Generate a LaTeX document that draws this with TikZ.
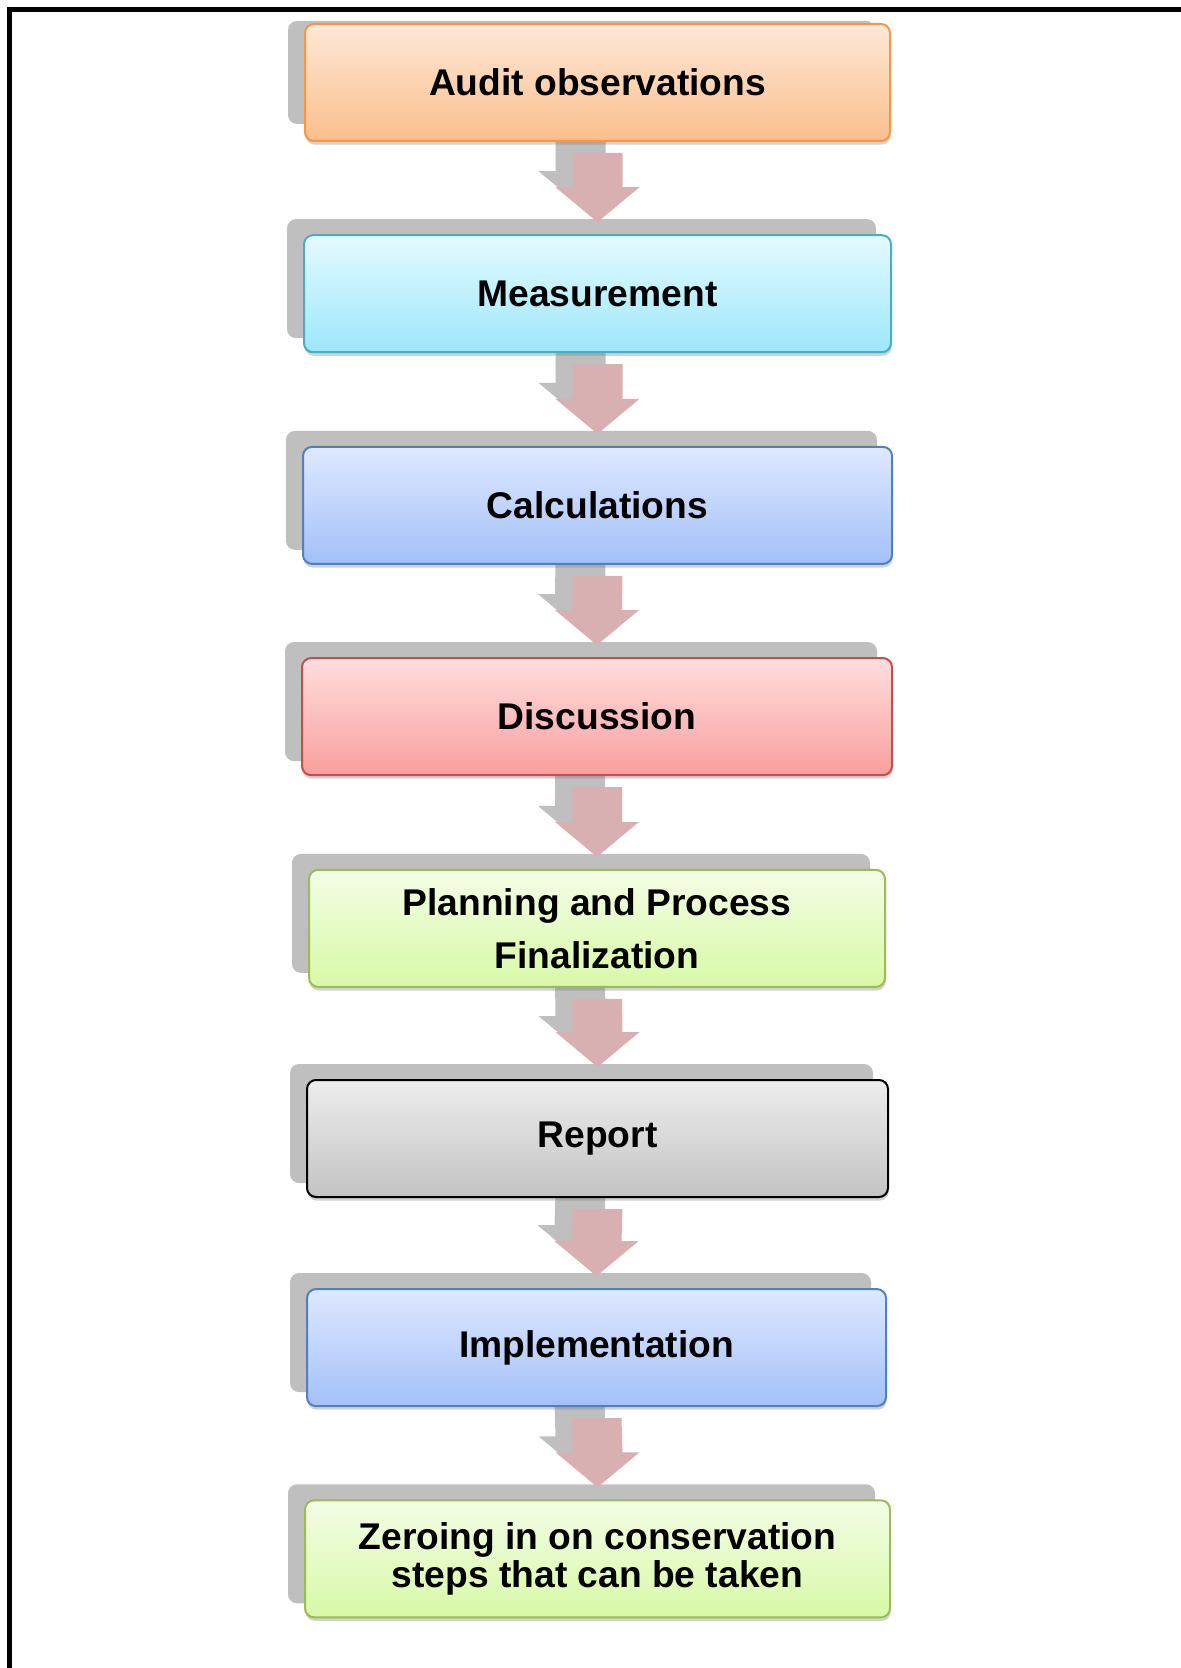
\documentclass[tikz,border=0pt]{standalone}
\usepackage{fontspec}
\setmainfont{Liberation Sans}
\usetikzlibrary{calc,shadows,backgrounds}
\definecolor{oTop}{HTML}{FDE8D8}\definecolor{oBot}{HTML}{FBBF8C}\definecolor{oBor}{HTML}{F79646}
\definecolor{cTop}{HTML}{E4FAFE}\definecolor{cBot}{HTML}{9DE7FB}\definecolor{cBor}{HTML}{4BACC6}
\definecolor{bTop}{HTML}{DFE8FF}\definecolor{bBot}{HTML}{A3C0F7}\definecolor{bBor}{HTML}{4F81BD}
\definecolor{rTop}{HTML}{FFDEDE}\definecolor{rBot}{HTML}{F99E9E}\definecolor{rBor}{HTML}{C0504D}
\definecolor{gTop}{HTML}{F3FDE6}\definecolor{gBot}{HTML}{D8F9A6}\definecolor{gBor}{HTML}{9BBB59}
\definecolor{kTop}{HTML}{EDEDED}\definecolor{kBot}{HTML}{C3C3C3}\definecolor{kBor}{HTML}{000000}
\definecolor{shadowgray}{HTML}{BFBFBF}
\definecolor{arrowpink}{HTML}{D9B0B2}
\tikzset{
  stepbox/.style={draw, line width=1pt, rounded corners=4.5pt, minimum height=58.5pt,
    inner sep=0pt, align=center, text=black,
    font=\fontsize{18.6}{26.5}\selectfont\bfseries,
    drop shadow={shadow xshift=0.3pt, shadow yshift=-1.8pt, opacity=0.35}},
  boxcol/.style={top color=#1Top, bottom color=#1Bot, draw=#1Bor},
  backshadow/.style={fill=shadowgray, rounded corners=4.5pt},
  grayarrow/.style={fill=shadowgray},
  pinkarrow/.style={fill=arrowpink},
  frameline/.style={line width=2.5pt, draw=black}
}
\begin{document}
\begin{tikzpicture}[x=0.5pt,y=-0.5pt]
\useasboundingbox (0,0) rectangle (1180,1668);

\node[stepbox, boxcol=o, minimum width=292.5pt] (b1) at (597.5,82.5) {Audit observations};
\node[stepbox, boxcol=c, minimum width=293.5pt] (b2) at (597.5,293.7) {Measurement};
\node[stepbox, boxcol=b, minimum width=294.5pt] (b3) at (597.5,505.4) {Calculations};
\node[stepbox, boxcol=r, minimum width=295pt] (b4) at (597,716.6) {Discussion};
\node[stepbox, boxcol=g, minimum width=288pt] (b5) at (597,928.4) {Planning and Process\\Finalization};
\node[stepbox, boxcol=k, minimum width=290.5pt] (b6) at (597.5,1138.5) {Report};
\node[stepbox, boxcol=b, minimum width=289.5pt] (b7) at (596.5,1347.6) {Implementation};
\node[stepbox, boxcol=g, minimum width=292.5pt, font=\fontsize{18.6}{18.6}\selectfont\bfseries] (b8) at (597.5,1558.8) {Zeroing in on conservation\\steps that can be taken};

\draw[frameline] (9.2,1680) -- (9.2,9.8) -- (1190,9.8);

\begin{scope}[on background layer]
  \fill[white] (0,0) rectangle (1180,1668);
  \path[backshadow] ($(b1.north west)+(-16,-2)$) rectangle ($(b1.south east)+(-16,-18)$);
  \foreach \b in {b2,b3,b4,b5,b6,b7,b8}
    \path[backshadow] ($(\b.north west)+(-16,-15)$) rectangle ($(\b.south east)+(-16,-15)$);
  \foreach \a/\c in {b1/b2,b2/b3,b3/b4,b4/b5,b5/b6,b6/b7,b7/b8} {
    \path[grayarrow] ($(\a.south)+(-42,-6)$) -- ($(\a.south)+(8,-6)$) -- ($(\c.north)+(8,-63)$)
      -- ($(\c.north)+(25,-63)$) -- ($(\c.north)+(-17,-28)$) -- ($(\c.north)+(-59,-63)$)
      -- ($(\c.north)+(-42,-63)$) -- cycle;
    \path[pinkarrow] ($(\a.south)+(-25,11)$) -- ($(\a.south)+(25,11)$) -- ($(\c.north)+(25,-47)$)
      -- ($(\c.north)+(42,-47)$) -- ($(\c.north)+(0,-12)$) -- ($(\c.north)+(-42,-47)$)
      -- ($(\c.north)+(-25,-47)$) -- cycle;
  }
\end{scope}
\end{tikzpicture}
\end{document}
